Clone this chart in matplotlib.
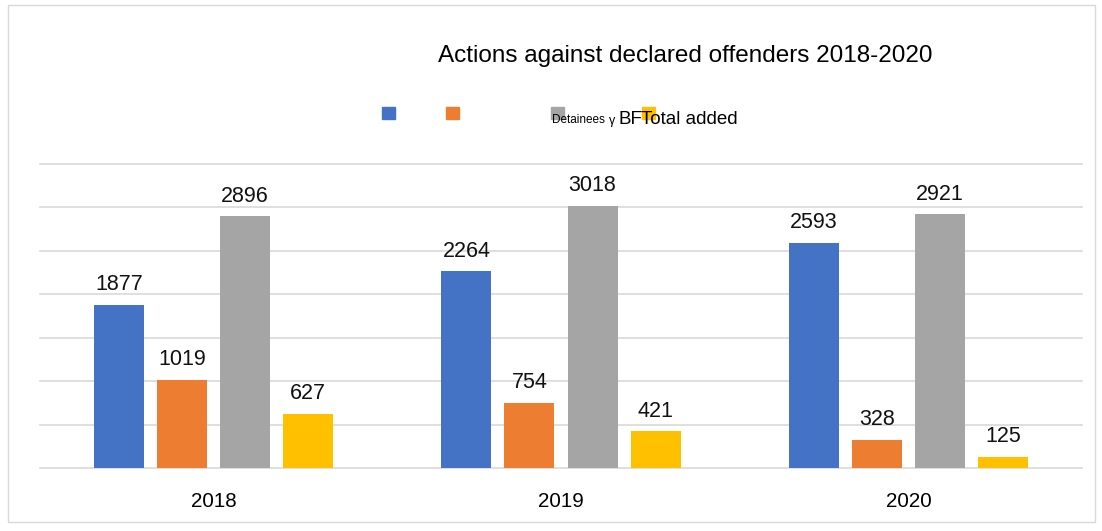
import numpy as np
import matplotlib.pyplot as plt
from matplotlib.patches import Rectangle

plt.rcParams['font.family'] = ['Liberation Sans', 'DejaVu Sans']

years = ['2018', '2019', '2020']
s1 = [1877, 2264, 2593]
s2 = [1019, 754, 328]
s3 = [2896, 3018, 2921]
s4 = [627, 421, 125]
colors = ['#4472C4', '#ED7D31', '#A5A5A5', '#FFC000']

fig = plt.figure(figsize=(11.02, 5.31), dpi=100)
ax = fig.add_axes([0.0363, 0.1186, 0.9456, 0.5725])

x = np.arange(len(years))
w = 0.144
step = 0.1816
for i, (vals, c) in enumerate(zip([s1, s2, s3, s4], colors)):
    pos = x + (i - 1.5) * step
    bars = ax.bar(pos, vals, width=w, color=c, zorder=3)
    for b, v in zip(bars, vals):
        ax.annotate(str(v), (b.get_x() + b.get_width() / 2, v),
                    xytext=(0, 7), textcoords='offset points',
                    ha='center', va='bottom', fontsize=15.5, color='#111111')

ax.set_xlim(-0.5, 2.5)
ax.set_ylim(0, 3500)
ax.set_yticks(np.arange(0, 3501, 500))
ax.yaxis.grid(True, color='#d9d9d9', lw=1.2, zorder=0)
for gl in ax.get_ygridlines():
    gl.set_clip_on(False)
ax.tick_params(axis='y', left=False, labelleft=False)
ax.tick_params(axis='x', bottom=False, labelsize=14.8, pad=14)
ax.set_xticks(x)
ax.set_xticklabels(years)
for s in ax.spines.values():
    s.set_visible(False)

fig.text(685 / 1102, 1 - 56 / 531, 'Actions against declared offenders 2018-2020',
         ha='center', va='center', fontsize=17.5)

# legend (as drawn in the original)
for lx, c in zip([382, 446, 551, 642], colors):
    fig.add_artist(Rectangle((lx / 1102, 1 - 119 / 531), 13 / 1102, 12 / 531,
                             transform=fig.transFigure, color=c))
fig.text(552 / 1102, 1 - 120 / 531, 'Detainees', fontsize=8.5, va='center')
fig.text(609 / 1102, 1 - 121 / 531, 'γ', fontsize=9, va='center')
fig.text(619 / 1102, 1 - 119 / 531, 'BF', fontsize=13.5, va='center')
fig.text(641 / 1102, 1 - 119 / 531, 'Total added', fontsize=13.5, va='center')

fig.add_artist(Rectangle((8 / 1102, 9 / 531), 1087 / 1102, 517 / 531,
                         transform=fig.transFigure, fill=False,
                         edgecolor='#d9d9d9', lw=1))

fig.savefig('out.png', dpi=100)
